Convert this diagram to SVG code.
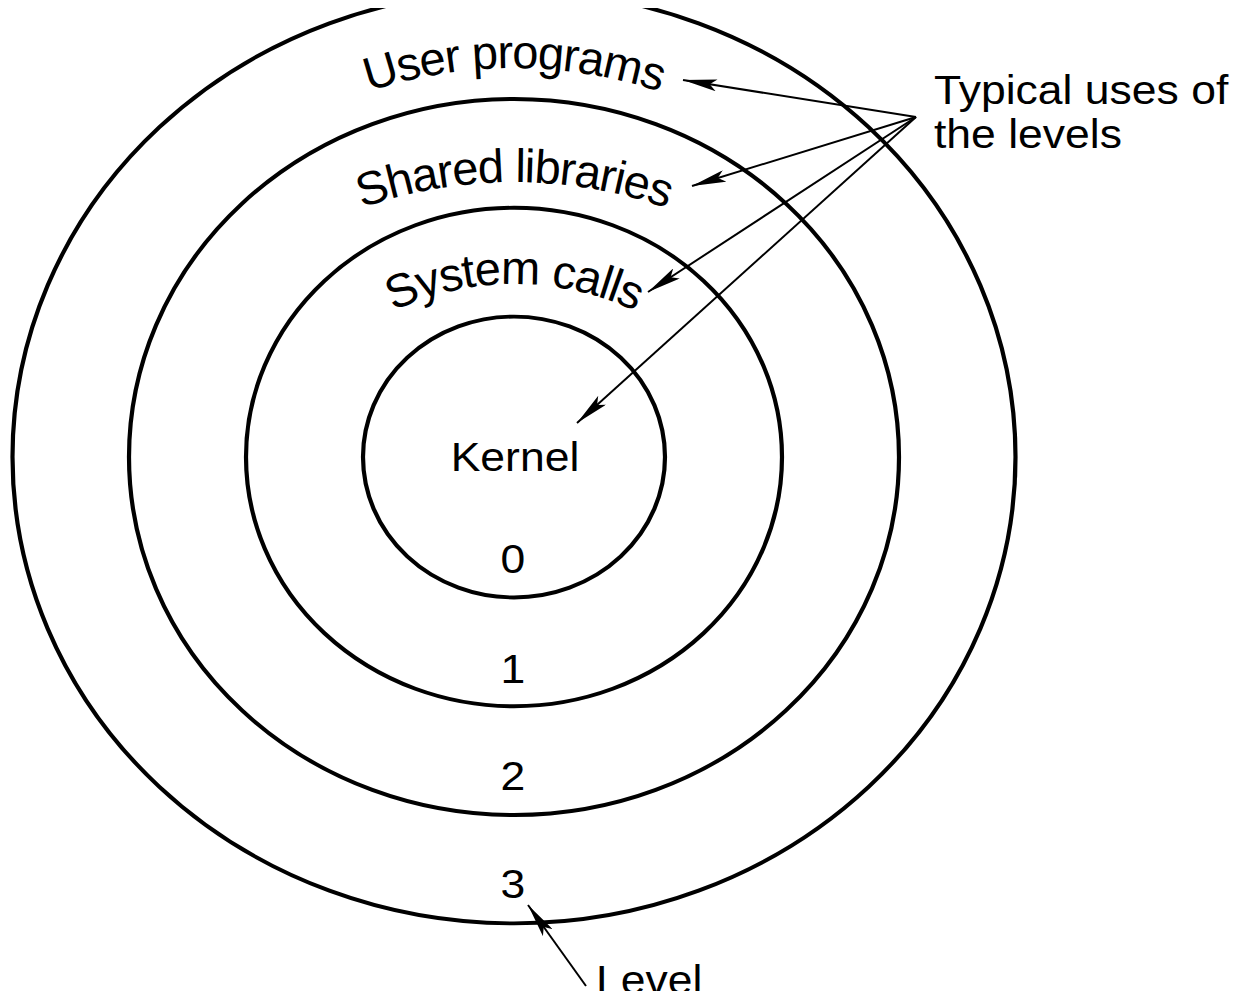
<svg xmlns="http://www.w3.org/2000/svg" width="1243" height="991" viewBox="0 0 1243 991">
<style>
.ring{fill:none;stroke:#000;stroke-width:4.2}
.t{font-family:"Liberation Sans",Arial,Helvetica,sans-serif;font-size:44.5px;fill:#000}
.arc{font-size:47px;letter-spacing:-1.2px}
.c{text-anchor:middle}
.conn{fill:none;stroke:#000;stroke-width:2}
</style>
<defs>
<clipPath id="clipTop"><rect x="0" y="8" width="1243" height="983"/></clipPath>
<marker id="ah" markerUnits="userSpaceOnUse" viewBox="0 0 34 12" markerWidth="34" markerHeight="12" refX="34" refY="6" orient="auto">
<path d="M0,0 L34,6 L0,12 L7,6 Z" fill="#000"/>
</marker>
<path id="arcUser" d="M84,468 A430,400 0 0 1 944,468"/>
<path id="arcShared" d="M84,582 A430,400 0 0 1 944,582"/>
<path id="arcSys" d="M249,530 A265,246 0 0 1 779,530"/>
</defs>
<rect width="1243" height="991" fill="#fff"/>
<g clip-path="url(#clipTop)">
<g transform="matrix(1 0 0 0.93 0 32)">
<g id="level3"><circle class="ring" cx="514" cy="457" r="501.5"/>
<text class="t c" x="513" y="931">3</text></g>
<g id="level2"><circle class="ring" cx="514" cy="457" r="385"/>
<text class="t c" x="513" y="815">2</text></g>
<g id="level1"><circle class="ring" cx="514" cy="457" r="268"/>
<text class="t c" x="513" y="700">1</text></g>
<g id="level0"><circle class="ring" cx="514" cy="457" r="151"/>
<text class="t c" x="515" y="472">Kernel</text>
<text class="t c" x="513" y="582">0</text></g>
<g id="legend"><text class="t" x="934" y="77.4">Typical uses of</text>
<text class="t" x="934" y="124.7">the levels</text></g>
<g id="levelLabel"><text class="t" x="596" y="1034">Level</text></g>
</g>
<g id="ringLabels">
<text class="t arc"><textPath href="#arcUser" startOffset="50%" text-anchor="middle">User programs</textPath></text>
<text class="t arc"><textPath href="#arcShared" startOffset="50%" text-anchor="middle">Shared libraries</textPath></text>
<text class="t arc"><textPath href="#arcSys" startOffset="50%" text-anchor="middle">System calls</textPath></text>
</g>
</g>
<g id="connectors">
<line class="conn" x1="916" y1="117" x2="683" y2="80" marker-end="url(#ah)"/>
<line class="conn" x1="916" y1="117" x2="692" y2="186" marker-end="url(#ah)"/>
<line class="conn" x1="916" y1="117" x2="648" y2="292" marker-end="url(#ah)"/>
<line class="conn" x1="916" y1="117" x2="577" y2="423" marker-end="url(#ah)"/>
<line class="conn" x1="586" y1="986" x2="528" y2="905" marker-end="url(#ah)"/>
</g>
</svg>
